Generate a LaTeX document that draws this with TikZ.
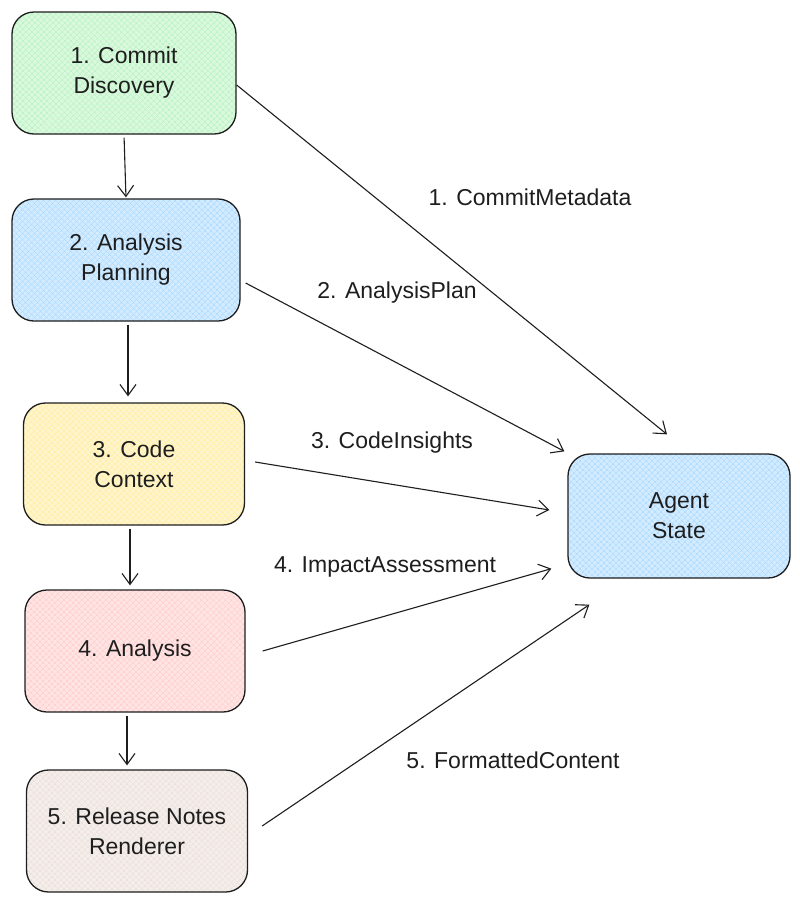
\documentclass[tikz,border=0pt]{standalone}
\usepackage{fontspec}
\setmainfont{Liberation Sans}
\usetikzlibrary{arrows.meta,patterns.meta}
\definecolor{cgreen}{HTML}{B2F2BB}
\definecolor{cblue}{HTML}{A5D8FF}
\definecolor{cyellow}{HTML}{FFEC99}
\definecolor{cred}{HTML}{FFC9C9}
\definecolor{cbrown}{HTML}{EADDD7}
\definecolor{ink}{HTML}{1E1E1E}
\tikzset{
  box/.style={line width=1.3pt, rounded corners=22pt, minimum width=#1,
    minimum height=122pt, align=center, font=\fontsize{23}{30}\selectfont, text=ink},
  box/.default=222pt,
  hatch/.style={fill=#1!50!white,
    postaction={pattern={Lines[angle=45,distance=4pt,line width=0.5pt]}, pattern color=#1},
    postaction={pattern={Lines[angle=-45,distance=4pt,line width=0.5pt]}, pattern color=#1},
    postaction={draw=ink, line width=1.3pt}},
  conn/.style={draw=ink, line width=1.1pt, -{Straight Barb[length=11pt,width=16pt,line width=1.1pt]}},
  lbl/.style={font=\fontsize{23}{28}\selectfont, text=ink}
}
\begin{document}
\begin{tikzpicture}[x=1pt,y=-1pt]
\useasboundingbox (0,0) rectangle (800,906);
\fill[white] (0,0) rectangle (800,906);
\node[box=224pt, hatch=cgreen] (b1) at (124,73) {1. Commit\\Discovery};
\node[box=228pt, hatch=cblue] (b2) at (126,260) {2. Analysis\\Planning};
\node[box=221pt, hatch=cyellow] (b3) at (134,464) {3. Code\\Context};
\node[box=220pt, hatch=cred] (b4) at (135,651) {4. Analysis};
\node[box=221pt, hatch=cbrown] (b5) at (137,831) {5. Release Notes\\Renderer};
\node[box=222pt, minimum height=124pt, hatch=cblue] (as) at (679,516) {Agent\\State};

\draw[conn, shorten <=3pt, shorten >=1pt] (b1.south) -- (b2.north);
\draw[conn, shorten <=3pt, shorten >=6pt] ([xshift=2pt]b2.south) -- ([xshift=-6pt]b3.north);
\draw[conn, shorten <=3pt, shorten >=4pt] ([xshift=-4pt]b3.south) -- ([xshift=-5pt]b4.north);
\draw[conn, shorten <=3pt, shorten >=4pt] ([xshift=-8pt]b4.south) -- ([xshift=-10pt]b5.north);

\draw[conn] ([yshift=-12pt]b1.east) -- ([shift={(-12pt,19pt)}]as.north);
\draw[conn] ([shift={(5pt,-23pt)}]b2.east) -- ([shift={(-3pt,2pt)}]as.north west);
\draw[conn] ([shift={(10pt,2pt)}]b3.east) -- ([shift={(-18pt,6pt)}]as.west);
\draw[conn] ([xshift=17pt]b4.east) -- ([shift={(-16pt,10pt)}]as.south west);
\draw[conn] ([shift={(14pt,5pt)}]b5.east) -- ([shift={(22pt,-26pt)}]as.south west);

\node[lbl] (l1) at (530,197) {1. CommitMetadata};
\node[lbl] (l2) at (397,293) {2. AnalysisPlan};
\node[lbl] (l3) at (392,443) {3. CodeInsights};
\node[lbl] (l4) at (385,567) {4. ImpactAssessment};
\node[lbl] (l5) at (513,760) {5. FormattedContent};
\end{tikzpicture}
\end{document}
